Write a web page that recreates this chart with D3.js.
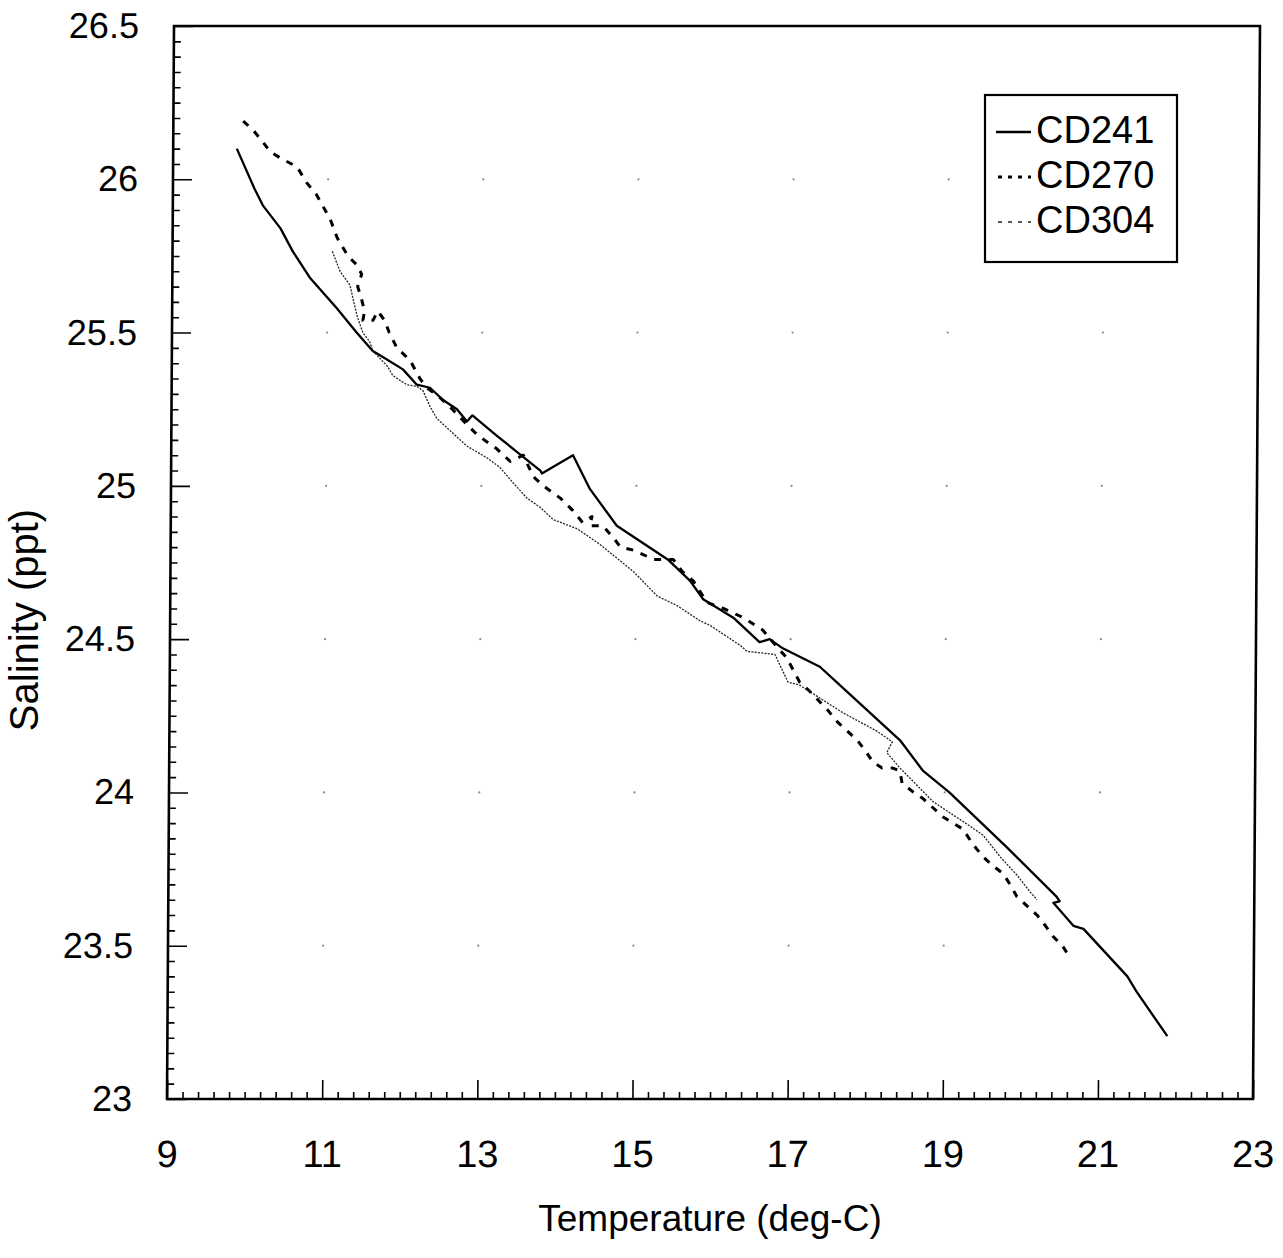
<!DOCTYPE html>
<html><head><meta charset="utf-8">
<script src="https://cdn.jsdelivr.net/npm/d3@7/dist/d3.min.js"></script>
<style>
html,body{margin:0;padding:0;background:#fff;}
text{font-family:"Liberation Sans",Arial,Helvetica,sans-serif;fill:#000;}
</style></head>
<body>
<svg id="chart" width="1283" height="1258"></svg>
<script>
// ---- data (temperature deg-C, salinity ppt) ----
const seriesNames = ["CD241", "CD270", "CD304"];
const cd241Temp = [9.82,10.05,10.16,10.39,10.55,10.77,11.12,11.38,11.59,11.72,11.98,12.16,12.33,12.50,12.68,12.81,12.88,13.19,13.46,13.76,13.78,14.18,14.40,14.75,15.41,15.70,15.87,16.26,16.60,16.73,16.90,17.38,17.77,18.42,18.72,19.06,19.81,20.45,20.49,20.41,20.67,20.80,21.37,21.49,21.89];
const cd241Sal  = [26.10,25.97,25.915,25.84,25.765,25.68,25.58,25.50,25.44,25.42,25.38,25.33,25.32,25.28,25.25,25.21,25.23,25.165,25.11,25.05,25.04,25.10,24.99,24.87,24.76,24.69,24.63,24.57,24.49,24.50,24.47,24.41,24.32,24.17,24.07,24.00,23.82,23.66,23.645,23.64,23.565,23.555,23.40,23.35,23.205];
const cd270Temp = [9.90,10.03,10.16,10.25,10.38,10.60,10.72,10.85,11.03,11.12,11.26,11.38,11.44,11.39,11.44,11.48,11.46,11.59,11.65,11.74,11.80,11.90,12.07,12.20,12.29,12.45,12.62,12.81,12.95,13.20,13.37,13.54,13.67,13.80,14.02,14.18,14.31,14.43,14.40,14.57,14.71,14.80,14.97,15.23,15.48,15.60,15.74,15.92,16.13,16.39,16.64,16.84,16.95,17.12,17.25,17.48,17.61,17.74,17.87,17.99,18.07,18.19,18.32,18.42,18.45,18.60,18.72,18.85,18.98,19.24,19.37,19.50,19.63,19.76,19.85,19.94,20.07,20.20,20.31,20.41,20.53,20.63];
const cd270Sal  = [26.19,26.16,26.12,26.09,26.07,26.04,25.99,25.95,25.87,25.81,25.75,25.72,25.69,25.65,25.61,25.57,25.54,25.54,25.57,25.54,25.50,25.45,25.41,25.35,25.32,25.29,25.25,25.20,25.165,25.12,25.08,25.10,25.03,25.00,24.96,24.92,24.88,24.90,24.87,24.87,24.83,24.80,24.79,24.76,24.76,24.72,24.69,24.62,24.60,24.57,24.53,24.47,24.44,24.36,24.33,24.27,24.23,24.20,24.17,24.13,24.10,24.08,24.08,24.07,24.03,24.00,23.98,23.95,23.92,23.88,23.83,23.79,23.76,23.735,23.70,23.66,23.63,23.60,23.565,23.53,23.50,23.46];
const cd304Temp = [11.06,11.16,11.29,11.35,11.39,11.46,11.55,11.59,11.78,11.85,12.03,12.16,12.24,12.33,12.42,12.55,12.68,12.81,13.08,13.24,13.41,13.59,13.76,13.93,14.24,14.53,14.97,15.28,15.53,15.83,15.96,16.35,16.44,16.80,16.97,17.12,17.68,18.12,18.32,18.25,18.42,18.85,19.33,19.50,19.72,19.94,20.11,20.20];
const cd304Sal  = [25.765,25.70,25.655,25.59,25.55,25.50,25.47,25.44,25.39,25.36,25.33,25.325,25.31,25.26,25.22,25.19,25.16,25.13,25.09,25.06,25.01,24.96,24.93,24.89,24.86,24.81,24.72,24.64,24.61,24.56,24.545,24.48,24.46,24.45,24.36,24.35,24.26,24.20,24.165,24.13,24.08,23.97,23.89,23.86,23.79,23.73,23.675,23.65];
const xMajorTicks = [9, 11, 13, 15, 17, 19, 21, 23];
const yMajorTicks = [23, 23.5, 24, 24.5, 25, 25.5, 26, 26.5];
const xTitle = "Temperature (deg-C)";
const yTitle = "Salinity (ppt)";

// ---- layout ----
const svg = d3.select("#chart");
const W = 1086, H = 1073;
const x = d3.scaleLinear().domain([9, 23]).range([0, W]);
const y = d3.scaleLinear().domain([23, 26.5]).range([H, 0]);

// the scanned frame is slightly sheared
const g = svg.append("g").attr("transform", "translate(174,26) skewX(-0.3738)");

// grid dots at major intersections
const dots = [];
xMajorTicks.slice(1, -1).forEach(tx => yMajorTicks.slice(1, -1).forEach(ty => dots.push([tx, ty])));
g.selectAll("circle.dot").data(dots).enter().append("circle")
  .attr("cx", d => x(d[0])).attr("cy", d => y(d[1])).attr("r", 1.1).attr("fill", "#888");

// minor ticks
const xMinor = d3.range(9, 23.001, 0.2).filter(v => Math.abs(v - Math.round(v)) > 0.01 || Math.round(v) % 2 === 0);
const yMinor = d3.range(23, 26.501, 0.05).filter(v => Math.abs(v * 2 - Math.round(v * 2)) > 0.01);

const xAxisMinor = g.append("g").attr("transform", `translate(0,${H})`)
  .call(d3.axisBottom(x).tickValues(xMinor).tickSize(-7).tickFormat(""));
const xAxisMajor = g.append("g").attr("transform", `translate(0,${H})`)
  .call(d3.axisBottom(x).tickValues(xMajorTicks).tickSize(-19).tickPadding(41).tickFormat(d => String(d)));
const yAxisMinor = g.append("g")
  .call(d3.axisLeft(y).tickValues(yMinor).tickSize(-7).tickFormat(""));
const yAxisMajor = g.append("g")
  .call(d3.axisLeft(y).tickValues(yMajorTicks).tickSize(-19).tickPadding(35).tickFormat(d => String(d)));

[xAxisMinor, xAxisMajor, yAxisMinor, yAxisMajor].forEach(a => {
  a.select(".domain").remove();
  a.selectAll(".tick line").attr("stroke", "#000").attr("stroke-width", 1.6);
});
xAxisMajor.selectAll("text").attr("font-size", 38).attr("fill", "#000");
yAxisMajor.selectAll("text").attr("font-size", 36).attr("fill", "#000");

// frame
g.append("rect").attr("x", 0).attr("y", 0).attr("width", W).attr("height", H)
  .attr("fill", "none").attr("stroke", "#000").attr("stroke-width", 2.6);

// series
const line = d3.line().x(d => x(d[0])).y(d => y(d[1]));
const zipS = (a, b) => a.map((v, i) => [v, b[i]]);
const series = [
  {name: seriesNames[0], pts: zipS(cd241Temp, cd241Sal), w: 2.3, dash: null, col: "#000"},
  {name: seriesNames[1], pts: zipS(cd270Temp, cd270Sal), w: 3, dash: "7,8", col: "#000"},
  {name: seriesNames[2], pts: zipS(cd304Temp, cd304Sal), w: 1.3, dash: "2,1.3", col: "#222"}
];
series.forEach(s => {
  g.append("path").datum(s.pts).attr("d", line)
    .attr("fill", "none").attr("stroke", s.col).attr("stroke-width", s.w)
    .attr("stroke-dasharray", s.dash).attr("stroke-linejoin", "round");
});

// legend
const lg = svg.append("g");
lg.append("rect").attr("x", 985).attr("y", 95).attr("width", 192).attr("height", 167)
  .attr("fill", "#fff").attr("stroke", "#000").attr("stroke-width", 2.2);
series.forEach((s, i) => {
  const ly = 132 + i * 45;
  lg.append("line").attr("x1", s.dash ? 998 : 996).attr("x2", 1031).attr("y1", ly).attr("y2", ly)
    .attr("stroke", s.col).attr("stroke-width", s.w).attr("stroke-dasharray", s.dash ? "4,6" : null);
  lg.append("text").attr("x", 1036).attr("y", 143 + i * 45).attr("font-size", 38).text(s.name);
});

// titles
svg.append("text").attr("x", 710).attr("y", 1231).attr("text-anchor", "middle")
  .attr("font-size", 37).text(xTitle);
svg.append("text").attr("transform", "translate(38,620) rotate(-90)").attr("text-anchor", "middle")
  .attr("font-size", 40).text(yTitle);
</script>
</body></html>
